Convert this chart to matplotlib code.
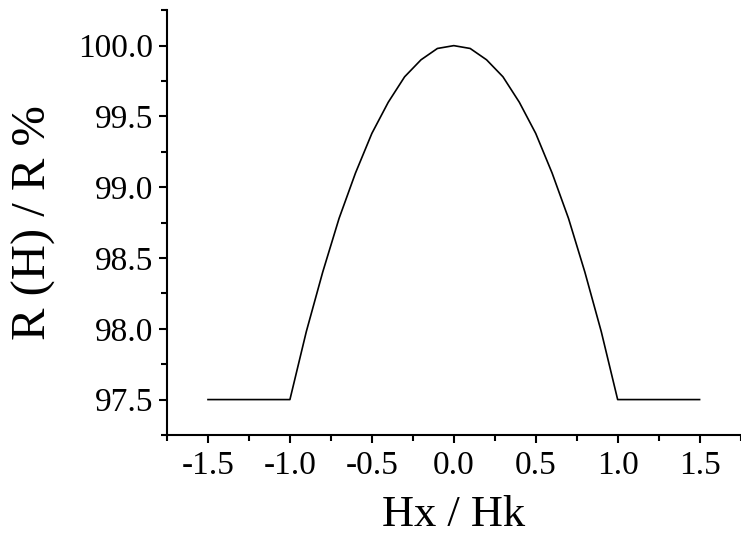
import numpy as np
import matplotlib
matplotlib.use("Agg")
import matplotlib.pyplot as plt
from matplotlib.ticker import MultipleLocator

# Values
hx = [-1.5, -1.0, -0.95, -0.9, -0.85, -0.8, -0.75, -0.7, -0.65, -0.6, -0.55, -0.5,
      -0.45, -0.4, -0.35, -0.3, -0.25, -0.2, -0.15, -0.1, -0.05, 0.0,
      0.05, 0.1, 0.15, 0.2, 0.25, 0.3, 0.35, 0.4, 0.45, 0.5,
      0.55, 0.6, 0.65, 0.7, 0.75, 0.8, 0.85, 0.9, 0.95, 1.0, 1.5]
ratio = [97.5, 97.5, 97.74, 97.98, 98.19, 98.40, 98.59, 98.78, 98.94, 99.10, 99.24, 99.38,
         99.49, 99.60, 99.69, 99.78, 99.84, 99.90, 99.94, 99.98, 99.99, 100.0,
         99.99, 99.98, 99.94, 99.90, 99.84, 99.78, 99.69, 99.60, 99.49, 99.38,
         99.24, 99.10, 98.94, 98.78, 98.59, 98.40, 98.19, 97.98, 97.74, 97.5, 97.5]

x_ticks = [-1.5, -1.0, -0.5, 0.0, 0.5, 1.0, 1.5]
y_ticks = [97.5, 98.0, 98.5, 99.0, 99.5, 100.0]

plt.rcParams['font.family'] = ['Liberation Serif', 'DejaVu Serif']

fig = plt.figure(figsize=(7.41, 5.39), dpi=100)
ax = fig.add_axes([0.2254, 0.193, 0.774, 0.788])

ax.plot(hx, ratio, color="black", lw=1.2)

ax.set_xlim(-1.75, 1.75)
ax.set_ylim(97.25, 100.25)
ax.set_xticks(x_ticks)
ax.set_xticklabels([f"{v:.1f}" for v in x_ticks])
ax.set_yticks(y_ticks)
ax.set_yticklabels([f"{v:.1f}" for v in y_ticks])
ax.xaxis.set_minor_locator(MultipleLocator(0.25))
ax.yaxis.set_minor_locator(MultipleLocator(0.25))

ax.spines["top"].set_visible(False)
ax.spines["right"].set_visible(False)
for s in ["left", "bottom"]:
    ax.spines[s].set_linewidth(1.5)

ax.tick_params(axis="both", which="major", direction="out", length=6, width=1.5,
               labelsize=24)
ax.tick_params(axis="both", which="minor", direction="out", length=4, width=1.5)
ax.tick_params(axis="y", which="major", pad=4)
ax.tick_params(axis="x", which="major", pad=5)

ax.set_xlabel("Hx / Hk", fontsize=32, labelpad=10)
ax.set_ylabel("R (H) / R %", fontsize=35, labelpad=16)

plt.savefig("out.png", dpi=100)
